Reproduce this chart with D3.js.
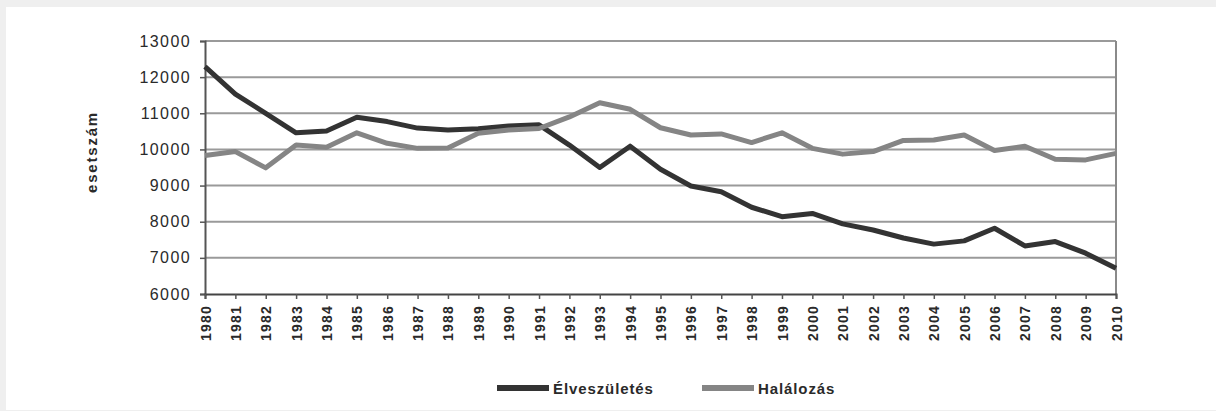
<!DOCTYPE html>
<html>
<head>
<meta charset="utf-8">
<script src="https://cdn.jsdelivr.net/npm/d3@7"></script>
<style>
  body { margin: 0; background: #efefef; }
  #main_view { position: absolute; left: 6px; top: 7px; width: 1210px; height: 403px; background: #fff; }
  svg { display: block; }
  text { font-family: "Liberation Sans", Arial, sans-serif; fill: #2a2a2a; }
</style>
</head>
<body>
<div id="main_view"></div>
<script>
// data
var years = [1980, 1981, 1982, 1983, 1984, 1985, 1986, 1987, 1988, 1989,
             1990, 1991, 1992, 1993, 1994, 1995, 1996, 1997, 1998, 1999,
             2000, 2001, 2002, 2003, 2004, 2005, 2006, 2007, 2008, 2009, 2010];
var births = [12290, 11530, 11000, 10460, 10510, 10890, 10770, 10590, 10540, 10570,
              10650, 10680, 10120, 9500, 10090, 9450, 8990, 8830, 8400, 8140,
              8230, 7940, 7770, 7550, 7380, 7470, 7820, 7330, 7450, 7130, 6710];
var deaths = [9830, 9940, 9490, 10120, 10060, 10460, 10170, 10030, 10040, 10450,
              10540, 10580, 10900, 11290, 11110, 10600, 10400, 10430, 10190, 10460,
              10030, 9870, 9940, 10250, 10260, 10400, 9970, 10090, 9730, 9710, 9890];
var yTicks = [6000, 7000, 8000, 9000, 10000, 11000, 12000, 13000];
var seriesNames = ["Élveszületés", "Halálozás"];
var seriesColors = ["#333333", "#858585"];

// set the dimensions and margins of the graph (card is offset by 6,7)
var margin = {top: 34, right: 100, bottom: 116, left: 199},
    width = 1210 - margin.left - margin.right,
    height = 403 - margin.top - margin.bottom;

var xScale = d3.scaleLinear().domain([1980, 2010]).range([0, width]);
var yScale = d3.scaleLinear().domain([6000, 13000]).range([height, 0]);

var root = d3.select("#main_view").append("svg")
    .attr("width", 1210)
    .attr("height", 403);

var svg = root.append("g")
    .attr("transform", "translate(" + margin.left + "," + margin.top + ")");

// gridlines
svg.append("g")
    .selectAll("line")
    .data(yTicks.slice(1))
  .enter().append("line")
    .attr("x1", 0)
    .attr("x2", width)
    .attr("y1", function(d) { return yScale(d); })
    .attr("y2", function(d) { return yScale(d); })
    .attr("stroke", "#9a9a9a")
    .attr("stroke-width", 2);

// right border
svg.append("line")
    .attr("x1", width).attr("x2", width)
    .attr("y1", 0).attr("y2", height)
    .attr("stroke", "#8a8a8a")
    .attr("stroke-width", 2);

// Y axis
var yAxis = svg.append("g")
    .call(d3.axisLeft(yScale).tickValues(yTicks).tickSize(5).tickPadding(9).tickFormat(d3.format("d")));
yAxis.select(".domain").attr("stroke", "#555").attr("stroke-width", 2);
yAxis.selectAll(".tick line").attr("stroke", "#555").attr("stroke-width", 1.5);
yAxis.selectAll(".tick text")
    .style("font-size", "16px")
    .style("letter-spacing", "1.4px")
    .attr("fill", "#2a2a2a");

// X axis
var xAxis = svg.append("g")
    .attr("transform", "translate(0," + height + ")")
    .call(d3.axisBottom(xScale).tickValues(years).tickSize(5).tickFormat(d3.format("d")));
xAxis.select(".domain").attr("stroke", "#444").attr("stroke-width", 2);
xAxis.selectAll(".tick line").attr("stroke", "#555").attr("stroke-width", 1.5);
xAxis.selectAll(".tick text")
    .attr("transform", "rotate(-90)")
    .attr("x", -11)
    .attr("y", 0)
    .attr("dy", "0.36em")
    .style("text-anchor", "end")
    .style("font-size", "14px")
    .style("font-weight", "bold")
    .style("letter-spacing", "1.2px")
    .attr("fill", "#2a2a2a");

// Y axis title
root.append("text")
    .attr("transform", "translate(86,145) rotate(-90)")
    .attr("dy", "0.35em")
    .style("text-anchor", "middle")
    .style("font-size", "15px")
    .style("font-weight", "bold")
    .style("letter-spacing", "1.8px")
    .text("esetszám");

// define the line
var line = d3.line()
    .x(function(d, i) { return xScale(years[i]); })
    .y(function(d) { return yScale(d); });

[births, deaths].forEach(function(s, k) {
  svg.append("path")
      .datum(s)
      .attr("fill", "none")
      .attr("stroke", seriesColors[k])
      .attr("stroke-width", 5)
      .attr("stroke-linejoin", "round")
      .attr("d", line);
});

// legend
var legendX = [491, 696];
var legend = root.append("g");
seriesNames.forEach(function(name, k) {
  legend.append("line")
      .attr("x1", legendX[k]).attr("x2", legendX[k] + 52)
      .attr("y1", 381).attr("y2", 381)
      .attr("stroke", seriesColors[k])
      .attr("stroke-width", 6);
  legend.append("text")
      .attr("x", legendX[k] + 56)
      .attr("y", 387)
      .style("font-size", "15px")
      .style("font-weight", "bold")
      .style("letter-spacing", "0.9px")
      .text(name);
});
</script>
</body>
</html>
